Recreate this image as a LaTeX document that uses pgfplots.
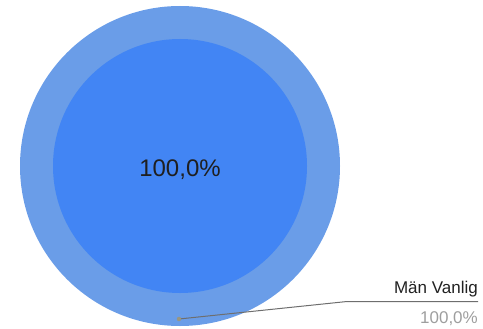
\documentclass[border=0pt]{standalone}
\usepackage{pgfplots}
\pgfplotsset{compat=1.18}
\usepackage{fontspec}
\setmainfont{Liberation Sans}
\definecolor{outerc}{HTML}{6A9DE8}
\definecolor{innerc}{HTML}{4285F4}
\definecolor{lead}{HTML}{6E6E6E}
\definecolor{valgray}{HTML}{9E9E9E}
\definecolor{dotc}{HTML}{9A9680}
\begin{document}
\begin{tikzpicture}
\begin{axis}[
  width=483bp, height=329bp, scale only axis,
  xmin=0, xmax=483, ymin=0, ymax=329, y dir=reverse,
  hide axis, clip=false,
]
\path (rel axis cs:0,0) rectangle (rel axis cs:1,1);
% pie: single slice, 100.0 %
\fill[outerc] (axis cs:180,166) circle[radius=160];
\fill[innerc] (axis cs:180,166) circle[radius=127];
% leader line
\addplot[lead, line width=1bp, mark=none] coordinates {(179,319) (347,301.5) (478,301.5)};
\addplot[dotc, only marks, mark=*, mark size=2bp, mark options={fill=dotc, draw=dotc}] coordinates {(179,319)};
\node[anchor=base, font=\fontsize{24bp}{28bp}\selectfont, text=black!88, inner sep=0pt] at (axis cs:180,176) {100,0\%};
\node[anchor=base east, font=\fontsize{17bp}{20bp}\selectfont, text=black!87, inner sep=0pt] at (axis cs:478,293) {Män Vanlig};
\node[anchor=base east, font=\fontsize{17bp}{20bp}\selectfont, text=valgray, inner sep=0pt] at (axis cs:478,323) {100,0\%};
\end{axis}
\end{tikzpicture}
\end{document}
